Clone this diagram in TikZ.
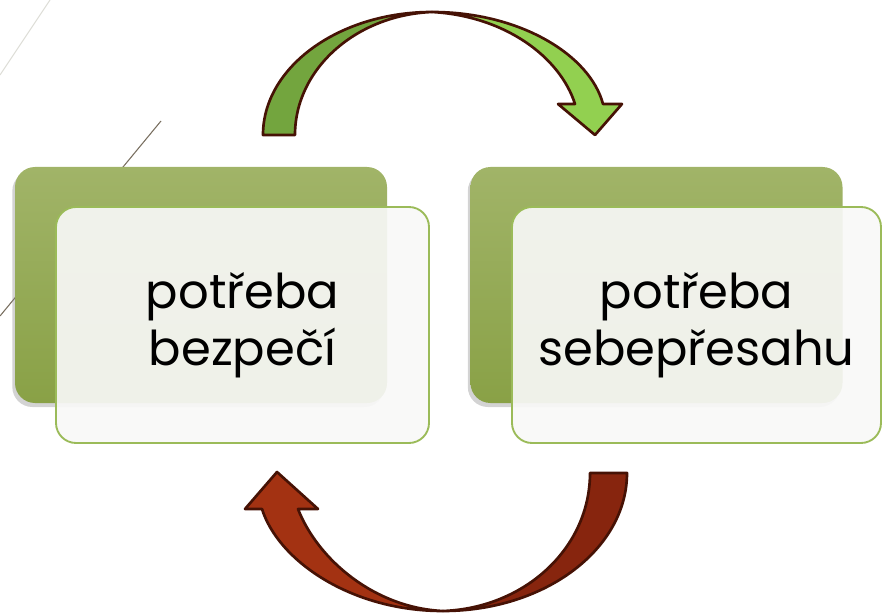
\documentclass[tikz,border=0pt]{standalone}
\usepackage{fontspec}
\newfontfamily\boxfont{Poppins}
\usetikzlibrary{shadows}
\definecolor{backtop}{RGB}{161,180,104}
\definecolor{backbot}{RGB}{137,161,70}
\definecolor{frontline}{RGB}{155,187,89}
\definecolor{frontfill}{RGB}{248,248,247}
\definecolor{arrowline}{RGB}{70,18,5}
\definecolor{greendark}{RGB}{115,165,62}
\definecolor{greenlight}{RGB}{146,208,80}
\definecolor{reddark}{RGB}{135,37,14}
\definecolor{redlight}{RGB}{163,50,18}
\tikzset{
    backbox/.style = {rectangle, rounded corners=15pt, minimum width=279pt, minimum height=177pt, inner sep=0pt, top color=backtop, bottom color=backbot, drop shadow={shadow xshift=-2pt, shadow yshift=-3pt, opacity=0.35}},
    frontbox/.style = {rectangle, rounded corners=15pt, minimum height=177pt, inner sep=0pt, draw=frontline, line width=1.4pt, fill=frontfill, fill opacity=0.92, text opacity=1, align=center, text=black, font=\boxfont\fontsize{36}{43}\selectfont},
    ribbon/.style = {draw=arrowline, line width=2pt, line join=round},
    ribbongd/.style = {ribbon, fill=greendark},  % top, left half
    ribbongl/.style = {ribbon, fill=greenlight}, % top, right half
    ribbonrd/.style = {ribbon, fill=reddark},    % bottom, right half
    ribbonrl/.style = {ribbon, fill=redlight},   % bottom, left half
    bgline/.style = {line width=0.8pt}
}
\begin{document}
\begin{tikzpicture}[x=0.75pt, y=-0.75pt]
  \useasboundingbox (0,0) rectangle (882,613);

  % background strokes
  \draw[bgline, color={rgb,255:red,222;green,222;blue,216}] (0,75) -- (50,0);
  \draw[bgline, color={rgb,255:red,120;green,110;blue,95}] (161,121) -- (0,316);

  % top arrow
  \draw[ribbongd] (263,135) .. controls (263,67) and (339,12) .. (432,12)
    .. controls (356,15) and (295,69) .. (295,135) -- cycle;
  \draw[ribbongl] (432,12) .. controls (520,12) and (590,55) .. (603,104)
    -- (622,104) -- (595,135) -- (558,104) -- (575,104)
    .. controls (560,57) and (505,16) .. (432,12) -- cycle;

  % bottom arrow
  \draw[ribbonrd] (590,473) -- (627,473) .. controls (627,549) and (545,611) .. (443,611)
    .. controls (525,608) and (590,548) .. (590,473) -- cycle;
  \draw[ribbonrl] (443,611) .. controls (350,611) and (278,560) .. (262,509)
    -- (245,509) -- (277,472) -- (318,509) -- (298,509)
    .. controls (318,560) and (375,608) .. (443,611) -- cycle;

  % boxes
  \node[backbox] (backl) at (201,285) {};
  \node[backbox] (backr) at (656.5,285) {};
  \node[frontbox, minimum width=279.75pt] (safety) at (242.5,325) {potřeba\\bezpečí};
  \node[frontbox, minimum width=276.75pt] (transcend) at (696.5,325) {potřeba\\sebepřesahu};

\end{tikzpicture}
\end{document}
